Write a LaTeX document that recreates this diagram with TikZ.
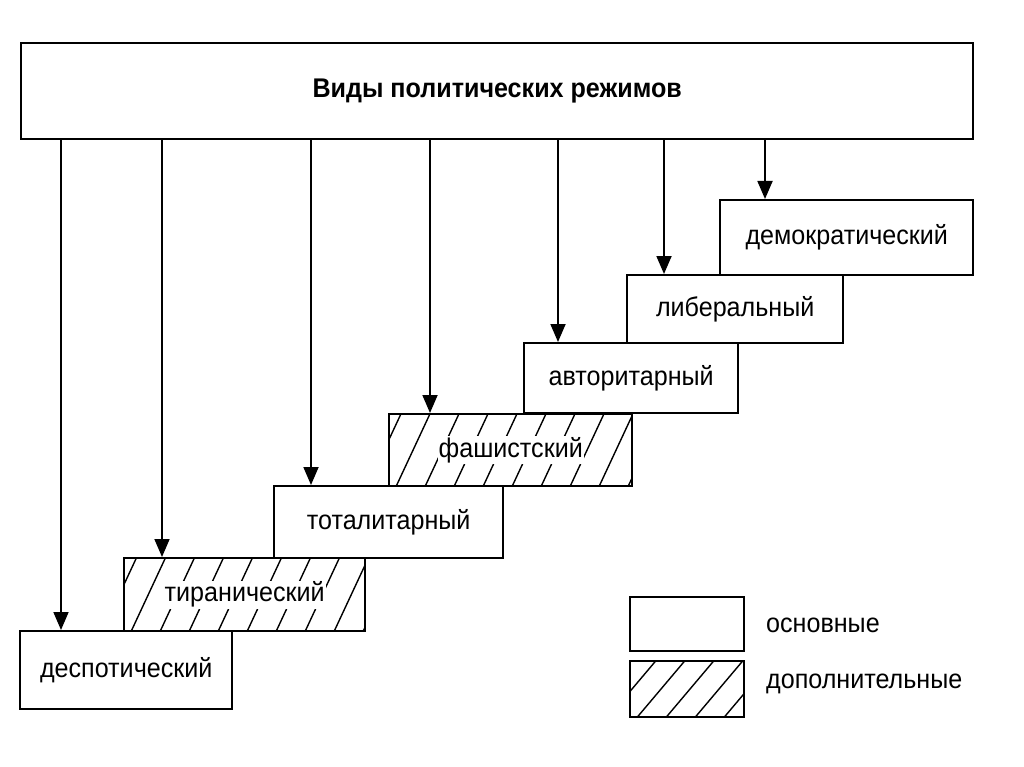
\documentclass[tikz,border=0pt]{standalone}
\usepackage{fontspec}
\setmainfont[FakeStretch=0.93]{Liberation Sans}
\usetikzlibrary{arrows.meta}
\begin{document}
\begin{tikzpicture}[x=1pt,y=-1pt]
\tikzset{
  regbox/.style={draw, line width=2.4pt, inner sep=0pt, anchor=north west,
    font=\fontsize{27}{30}\selectfont},
  hatbox/.style={regbox, path picture={
      \foreach \k in {0,...,14} {
        \draw[line width=1.4pt] ([xshift=\k*29pt-80pt]path picture bounding box.south west) -- ++(#1,-90);
      }}},
  hatbox/.default=42,
  arr/.style={line width=1.8pt, -{Triangle[length=18pt,width=15pt]}},
  legtext/.style={anchor=west, inner sep=0pt, font=\fontsize{27}{30}\selectfont},
}
\setlength{\fboxsep}{1pt}
\useasboundingbox (0,0) rectangle (1024,767);
\node[regbox, minimum width=952pt, minimum height=96pt, font=\fontsize{27}{30}\selectfont\bfseries] (top) at (20,42) {Виды политических режимов};
\node[regbox, minimum width=253pt, minimum height=75pt] (dem) at (719,199) {демократический};
\node[regbox, minimum width=216pt, minimum height=68pt] (lib) at (626,274) {либеральный};
\node[regbox, minimum width=214pt, minimum height=70pt] (aut) at (523,342) {авторитарный};
\node[hatbox, minimum width=243pt, minimum height=72pt] (fas) at (388,413) {\colorbox{white}{фашистский}};
\node[regbox, minimum width=229pt, minimum height=72pt] (tot) at (273,485) {тоталитарный};
\node[hatbox, minimum width=241pt, minimum height=73pt] (tyr) at (123,557) {\colorbox{white}{тиранический}};
\node[regbox, minimum width=212pt, minimum height=78pt] (des) at (19,630) {деспотический};
\node[regbox, minimum width=114pt, minimum height=54pt] (leg1) at (629,596) {};
\node[hatbox=76, minimum width=114pt, minimum height=56pt] (leg2) at (629,660) {};
\node[legtext] (lt1) at (766,625) {основные};
\node[legtext] (lt2) at (766,684) {дополнительные};
\coordinate (c1) at (61,0);
\coordinate (c2) at (162,0);
\coordinate (c3) at (311,0);
\coordinate (c4) at (430,0);
\coordinate (c5) at (558,0);
\coordinate (c6) at (664,0);
\coordinate (c7) at (765,0);
\draw[arr] (c1 |- top.south) -- (c1 |- des.north);
\draw[arr] (c2 |- top.south) -- (c2 |- tyr.north);
\draw[arr] (c3 |- top.south) -- (c3 |- tot.north);
\draw[arr] (c4 |- top.south) -- (c4 |- fas.north);
\draw[arr] (c5 |- top.south) -- (c5 |- aut.north);
\draw[arr] (c6 |- top.south) -- (c6 |- lib.north);
\draw[arr] (c7 |- top.south) -- (c7 |- dem.north);
\end{tikzpicture}
\end{document}
